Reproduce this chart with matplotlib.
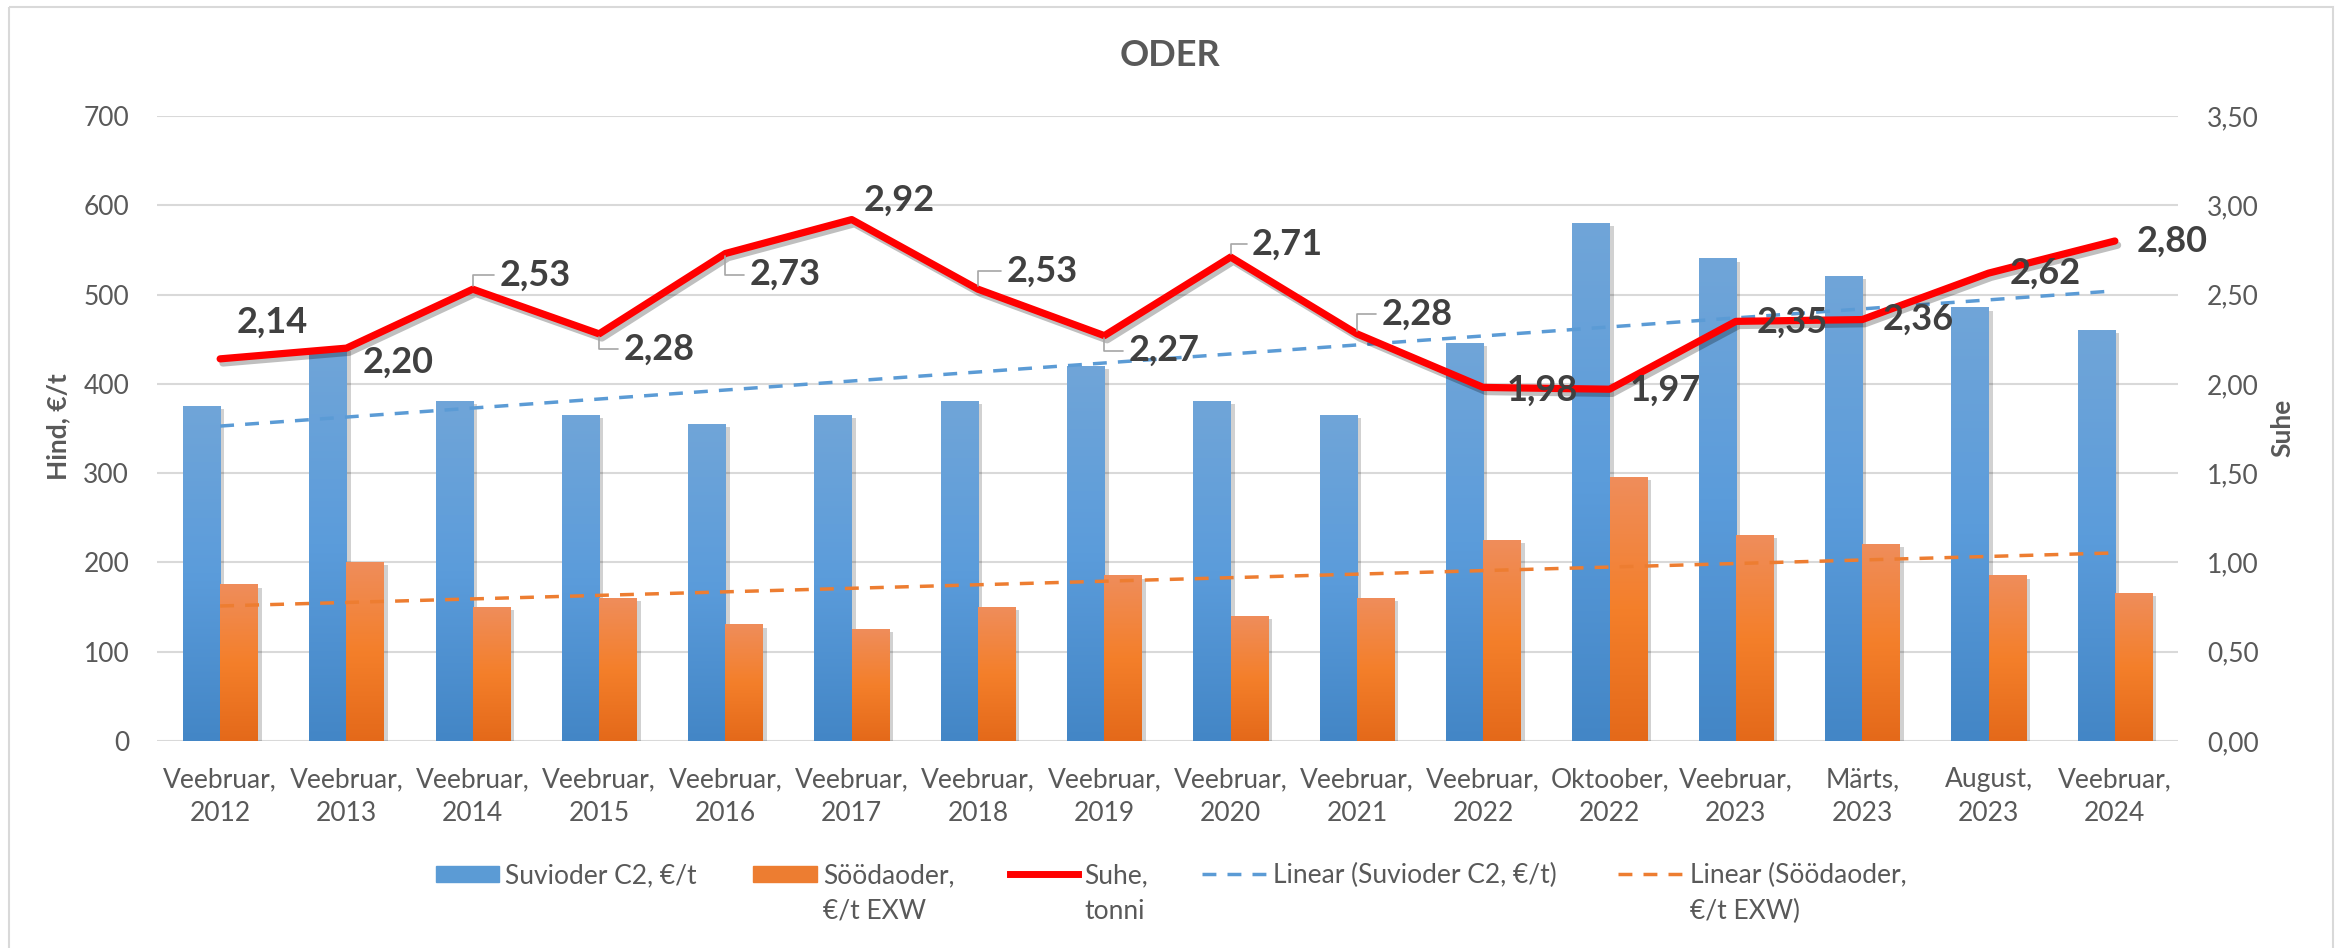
import numpy as np
import matplotlib
matplotlib.use("Agg")
import matplotlib.pyplot as plt
import matplotlib.patheffects as pe
from matplotlib.colors import LinearSegmentedColormap
from matplotlib.patches import Rectangle
from matplotlib.lines import Line2D

plt.rcParams['font.family'] = ['Lato', 'DejaVu Sans']

# data
months = ["Veebruar", "Veebruar", "Veebruar", "Veebruar", "Veebruar", "Veebruar",
          "Veebruar", "Veebruar", "Veebruar", "Veebruar", "Veebruar", "Oktoober",
          "Veebruar", "Märts", "August", "Veebruar"]
years = ["2012", "2013", "2014", "2015", "2016", "2017", "2018", "2019", "2020",
         "2021", "2022", "2022", "2023", "2023", "2023", "2024"]
suvioder = [375, 440, 380, 365, 355, 365, 380, 420, 380, 365, 445, 580, 540, 520, 485, 460]
soodaoder = [175, 200, 150, 160, 130, 125, 150, 185, 140, 160, 225, 295, 230, 220, 185, 165]
suhe = [2.14, 2.20, 2.53, 2.28, 2.73, 2.92, 2.53, 2.27, 2.71, 2.28, 1.98, 1.97, 2.35, 2.36, 2.62, 2.80]
legend_labels = ["Suvioder C2, €/t", "Söödaoder,\n€/t EXW", "Suhe,\ntonni",
                 "Linear (Suvioder C2, €/t)", "Linear (Söödaoder,\n€/t EXW)"]

# label placement (pixels from point) and which ones get a leader line
label_offsets = [(52, -37), (52, 14), (62, -14), (60, 15), (60, 21), (47, -19),
                 (64, -18), (60, 15), (57, -13), (60, -20), (59, 3), (56, 1),
                 (56, 1), (56, 0), (57, 0), (57, 0)]
leaders = [False, False, True, True, True, False, True, True, True, True,
           False, False, False, False, False, False]

BLUE = '#5b9bd5'
ORANGE = '#ed7d31'
GREY = '#595959'

W, H = 2341, 948
fig = plt.figure(figsize=(W / 100, H / 100), dpi=100)
ax = fig.add_axes([157 / W, 1 - 741 / H, (2178 - 157) / W, (741 - 116) / H])

x = np.arange(len(months))
bw = 0.295
b1 = ax.bar(x - bw / 2, suvioder, bw, color=BLUE, zorder=2)
b2 = ax.bar(x + bw / 2, soodaoder, bw, color=ORANGE, zorder=2)


def gradient_bars(bars, colors):
    cmap = LinearSegmentedColormap.from_list('g', colors)
    grad = np.linspace(0, 1, 256).reshape(-1, 1)
    for b in bars:
        x0, y0, w, h = b.get_x(), b.get_y(), b.get_width(), b.get_height()
        b.set_facecolor('none')
        b.set_edgecolor('none')
        b.set_path_effects([pe.SimplePatchShadow(offset=(3, -2), shadow_rgbFace='k', alpha=0.18)])
        ax.imshow(grad, extent=[x0, x0 + w, y0, y0 + h], origin='lower', aspect='auto',
                  cmap=cmap, zorder=2.1, interpolation='bilinear')


gradient_bars(b1, ['#4386c6', '#5b9cdb', '#70a5d8'])
gradient_bars(b2, ['#e4691a', '#f47f2a', '#ef8d5b'])

# linear trendlines (Excel style, x = 1..n)
for vals, col in [(suvioder, BLUE), (soodaoder, ORANGE)]:
    k, c = np.polyfit(x + 1, vals, 1)
    ax.plot(x, k * (x + 1) + c, ls=(0, (4, 3.2)), color=col, lw=2.5, zorder=3)

ax.set_xlim(-0.5, len(months) - 0.5)
ax.set_ylim(0, 700)
ax.set_yticks(range(0, 701, 100))
ax.set_xticks(x, [f"{m},\n{y}" for m, y in zip(months, years)])
for t in ax.get_xticklabels():
    t.set_linespacing(1.45)
ax.grid(axis='y', color='#d9d9d9', lw=1.5, zorder=0)
ax.set_axisbelow(True)
for s in ax.spines.values():
    s.set_visible(False)
ax.tick_params(axis='x', length=0, pad=19, labelsize=19, labelcolor=GREY)
ax.tick_params(axis='y', length=0, pad=20, labelsize=19, labelcolor=GREY)

ax2 = ax.twinx()
ax2.set_ylim(0, 3.5)
ax2.set_yticks(np.arange(0, 3.51, 0.5))
ax2.set_yticklabels([f"{v:.2f}".replace('.', ',') for v in np.arange(0, 3.51, 0.5)])
for s in ax2.spines.values():
    s.set_visible(False)
ax2.tick_params(axis='y', length=0, pad=21, labelsize=19, labelcolor=GREY)

ax2.plot(x, suhe, color='#ff0000', lw=5.2, zorder=4, solid_capstyle='round',
         path_effects=[pe.SimpleLineShadow(offset=(2, -3), alpha=0.25), pe.Normal()])

for i, v in enumerate(suhe):
    dx, dy = label_offsets[i]
    ap = None
    if leaders[i]:
        ap = dict(arrowstyle='-', color='#a6a6a6', lw=1.2, relpos=(0, 0.5),
                  shrinkA=2, shrinkB=2, connectionstyle='angle,angleA=0,angleB=90,rad=0')
    ax2.annotate(f"{v:.2f}".replace('.', ','), (i, v), xytext=(dx, -dy),
                 textcoords='offset pixels', ha='center', va='center', fontsize=26,
                 fontweight='bold', color='#404040', arrowprops=ap, zorder=6)

# overlay in pixel coordinates: frame, title, axis titles, legend
ov = fig.add_axes([0, 0, 1, 1], zorder=10)
ov.set_xlim(0, W)
ov.set_ylim(H, 0)
ov.axis('off')
ov.add_patch(Rectangle((9, 7), 2333 - 9, 980, fill=False, ec='#d9d9d9', lw=1.5))
ov.text(1170, 55, 'ODER', ha='center', va='center', fontsize=26, fontweight='bold', color=GREY)
ov.text(58, 427, 'Hind, €/t', rotation=90, ha='center', va='center', fontsize=19,
        fontweight='bold', color=GREY)
ov.text(2282, 428, 'Suhe', rotation=90, ha='center', va='center', fontsize=19,
        fontweight='bold', color=GREY)

handle_x = [(436, 499), (753, 817), (1010, 1078), (1202, 1267), (1618, 1684)]
ly = 874
ov.add_patch(Rectangle((handle_x[0][0], ly - 8), handle_x[0][1] - handle_x[0][0], 16, color=BLUE))
ov.add_patch(Rectangle((handle_x[1][0], ly - 8), handle_x[1][1] - handle_x[1][0], 16, color=ORANGE))
ov.add_line(Line2D(handle_x[2], [ly, ly], color='#ff0000', lw=5))
ov.add_line(Line2D(handle_x[3], [ly, ly], color=BLUE, lw=2.5, ls=(0, (4, 3.2))))
ov.add_line(Line2D(handle_x[4], [ly, ly], color=ORANGE, lw=2.5, ls=(0, (4, 3.2))))
for (hx0, hx1), lab in zip(handle_x, legend_labels):
    for k, line in enumerate(lab.split('\n')):
        ov.text(hx1 + 6, ly + 9 + 36 * k, line, ha='left', va='baseline', fontsize=19, color=GREY)

fig.savefig('out.png', dpi=100, facecolor='white')
